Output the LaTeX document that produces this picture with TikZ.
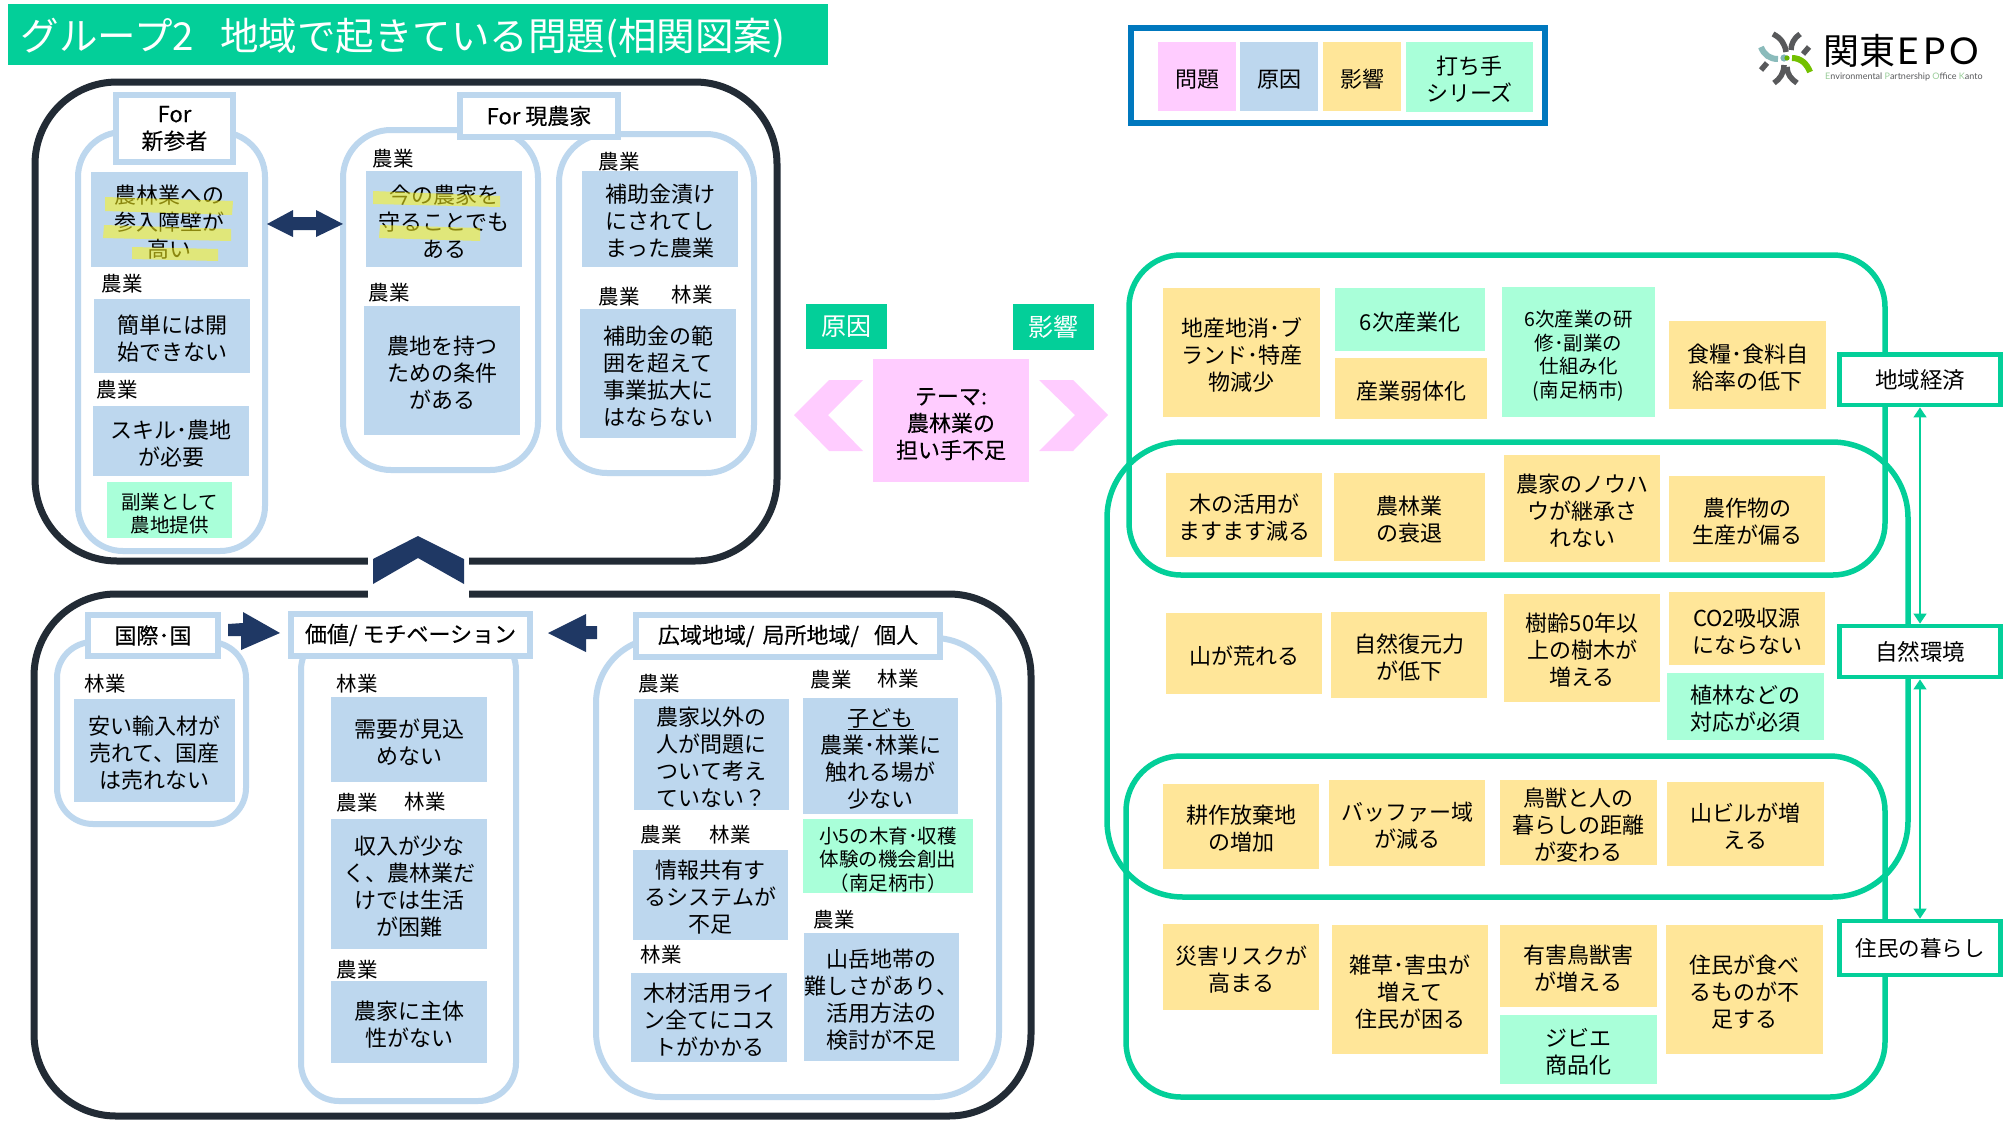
\documentclass[tikz,border=0pt]{standalone}
\usepackage{fontspec}
\setmainfont{Noto Sans CJK JP}
\newfontfamily\headfont[FakeBold=0.25]{Noto Sans CJK JP}
\newfontfamily\logolatin{Lato}
\definecolor{dk}{HTML}{222B35}
\definecolor{nv}{HTML}{1F3864}
\definecolor{lb}{HTML}{BDD7EE}
\definecolor{yl}{HTML}{FFE699}
\definecolor{gr}{HTML}{A9FFD9}
\definecolor{pk}{HTML}{FFCCFF}
\definecolor{tg}{HTML}{03CF99}
\definecolor{lg}{HTML}{0078BE}
\definecolor{hl}{HTML}{FDF51B}
\definecolor{gy}{HTML}{58595B}
\tikzset{
  x=1pt,y=-1pt,
  txt/.style={text=black,font=\fontsize{22}{27}\selectfont},
  blue/.style={txt,fill=lb},
  yell/.style={txt,fill=yl},
  mint/.style={txt,fill=gr},
  mintsm/.style={mint,font=\fontsize{19.5}{23.5}\selectfont},
  pinkb/.style={txt,fill=pk},
  outerb/.style={draw=dk,line width=7pt,fill=white,rounded corners=82pt},
  contb/.style={draw=lb,line width=6pt,fill=white},
  headb/.style={draw=lb,line width=6pt,fill=white,text=black,font=\headfont\fontsize{22}{27}\selectfont},
  zone/.style={draw=tg,line width=5.5pt},
  tagb/.style={draw=tg,line width=4.8pt,fill=white,text=black,font=\fontsize{22.5}{27}\selectfont},
  tg2/.style={fill=tg,text=white,font=\fontsize{25}{30}\selectfont},
  tagtext/.style={text=black,font=\fontsize{20.5}{24}\selectfont,inner sep=0pt},
  hlite/.style={fill=hl,opacity=.55},
  twoway/.style={draw=tg,line width=1.3pt,{Triangle[width=13pt,length=10pt]}-{Triangle[width=13pt,length=10pt]}},
  logoarc/.style={draw=gy,line width=5.5pt},
}
\usetikzlibrary{arrows.meta}
% bx: box with its text set about 2 units below the centre (the first-line strut does that)
\newcommand\bx[7]{\pgfmathsetmacro\bw{#5-#3}\pgfmathsetmacro\bh{#6-#4}%
  \node[#2,minimum width=\bw pt,minimum height=\bh pt,inner sep=0pt,align=center] (#1) at ({(#3+#5)/2},{(#4+#6)/2}) {\rule{0pt}{23.5pt}#7};}
% hb: header / plain box, text at the centre
\newcommand\hb[7]{\pgfmathsetmacro\bw{#5-#3}\pgfmathsetmacro\bh{#6-#4}%
  \node[#2,minimum width=\bw pt,minimum height=\bh pt,inner sep=0pt,align=center] (#1) at ({(#3+#5)/2},{(#4+#6)/2}) {#7};}
\newcommand\lbl[4]{\node[tagtext] (#1) at (#2,#3) {#4};}
\begin{document}
\begin{tikzpicture}
\useasboundingbox (0,0) rectangle (2009,1130);
% title
\hb{title}{fill=tg,text=white,font=\fontsize{38.5}{42}\selectfont}{8}{4}{828}{65}{\rule{0pt}{40pt}グループ2\hspace{26pt}地域で起きている問題(相関図案)\rule{30pt}{0pt}}
% legend
\hb{legend}{draw=lg,line width=6pt}{1131}{28}{1545}{123}{}
\bx{leg1}{pinkb}{1158}{42}{1236}{111}{問題}
\bx{leg2}{blue}{1240}{42}{1318}{111}{原因}
\bx{leg3}{yell}{1323}{42}{1401}{111}{影響}
\bx{leg4}{mint}{1406}{42}{1533}{112}{打ち手\\シリーズ}
% logo
\draw[line width=6pt,draw=teal!45!white!85!gray,line cap=butt] (1761,47) .. controls (1764,55) and (1770,59) .. (1778,59);
\draw[line width=6pt,draw=green!55!black!55!yellow,line cap=butt] (1792,58) .. controls (1801,58) and (1807,64) .. (1810,72);
\fill[teal!50!white!85!gray] (1784,58) circle (3.6);
\fill[green!50!black!60!yellow] (1787,58) circle (2.6);
\draw[logoarc] (1773,34) .. controls (1781,38) and (1785,44) .. (1786,52);
\draw[logoarc] (1800,34) .. controls (1794,38) and (1791,44) .. (1791,50);
\draw[logoarc] (1809,47) -- (1803,54);
\draw[logoarc] (1761,70) -- (1767,63);
\draw[logoarc] (1774,83) .. controls (1780,79) and (1784,73) .. (1784,65);
\draw[logoarc] (1797,83) .. controls (1791,79) and (1787,74) .. (1787,67);
\node[anchor=west,inner sep=0pt,text=black,font=\fontsize{36}{38}\selectfont] (logotext) at (1823,51) {関東\hspace{2pt}{\logolatin\fontsize{37}{40}\selectfont E\kern4.5pt P\kern4.5pt O}};
\node[anchor=west,inner sep=0pt,text=gy,font=\logolatin\fontsize{9}{10}\selectfont] (logosub) at (1825,77) {\textcolor{green!50!black!40!white}{E}nvironmental \textcolor{green!50!black!40!white}{P}artnership \textcolor{green!50!black!40!white}{O}ffice \textcolor{green!50!black!40!white}{K}anto};
% upper dark frame
\hb{upframe}{outerb}{35}{82}{777}{561}{}
% lower dark frame
\hb{loframe}{outerb}{34}{594}{1031}{1116}{}
% chevron up with white gap
\fill[white] (368,555) rectangle (469,594);
\fill[white] (368,590) rectangle (469,599);
\fill[nv] (373,559) -- (418,536) -- (464,559) -- (464,584) -- (418,558) -- (373,584) -- cycle;
% containers upper
\hb{c1}{contb,rounded corners=45pt}{78}{132}{265}{551}{}
\hb{c2}{contb,rounded corners=48pt}{343}{130}{538}{470}{}
\hb{c3}{contb,rounded corners=48pt}{559}{134}{754}{473}{}
\hb{h1}{headb}{116}{95}{233}{162}{For\\新参者}
\hb{h2}{headb}{460}{95}{618}{137}{For 現農家}
% column 1
\bx{a1}{blue}{91}{172}{248}{267}{農林業への\\参入障壁が\\高い}
\lbl{la2}{122}{284}{農業}
\bx{a2}{blue}{94}{299}{250}{373}{簡単には開\\始できない}
\lbl{la3}{117}{390}{農業}
\bx{a3}{blue}{93}{406}{249}{476}{スキル･農地\\が必要}
\bx{a4}{mintsm}{107}{482}{232}{538}{副業として\\農地提供}
% column 2
\lbl{lb1}{393}{159}{農業}
\bx{b1}{blue}{366}{171}{522}{267}{今の農家を\\守ることでも\\ある}
\lbl{lb2}{389}{293}{農業}
\bx{b2}{blue}{364}{306}{520}{435}{農地を持つ\\ための条件\\がある}
% column 3
\lbl{lc1}{619}{162}{農業}
\bx{c1a}{blue}{582}{171}{738}{267}{補助金漬け\\にされてし\\まった農業}
\lbl{lc2}{619}{297}{農業}
\lbl{lc3}{692}{295}{林業}
\bx{c2a}{blue}{580}{309}{736}{438}{補助金の範\\囲を超えて\\事業拡大に\\はならない}
% highlights
\fill[hlite] (105,197) -- (233,201) -- (232,215) -- (105,211) -- cycle;
\fill[hlite] (104,225) -- (231,229) -- (231,241) -- (103,238) -- cycle;
\fill[hlite] (132,247) -- (218,249) -- (218,261) -- (132,259) -- cycle;
\fill[hlite] (373,191) -- (500,196) -- (500,207) -- (373,204) -- cycle;
\fill[hlite] (380,225) -- (480,228) -- (480,241) -- (379,238) -- cycle;
% double arrow
\fill[nv] (267,224) -- (293,210) -- (293,217) -- (316,217) -- (316,210) -- (343,224) -- (316,237) -- (316,230) -- (293,230) -- (293,237) -- cycle;
% lower containers
\hb{d1}{contb,rounded corners=36pt}{57}{642}{246}{824}{}
\hb{d2}{contb,rounded corners=38pt}{301}{632}{516}{1101}{}
\hb{d3}{contb,rounded corners=65pt}{596}{638}{999}{1097}{}
\hb{h3}{headb}{88}{615}{218}{656}{国際･国}
\hb{h4}{headb}{291}{614}{530}{656}{価値/ モチベーション}
\hb{h5}{headb}{636}{615}{940}{657}{広域地域/\hspace{8pt}局所地域/\hspace{15pt}個人}
% block arrows
\fill[nv] (228,624) -- (243,623) -- (243,612) -- (280,633) -- (241,650) -- (241,636) -- (228,636) -- cycle;
\fill[nv] (548,633) -- (586,614) -- (586,626) -- (597,626) -- (597,639) -- (586,639) -- (586,652) -- cycle;
% d1
\lbl{ld1}{105}{684}{林業}
\bx{d1a}{blue}{74}{699}{235}{802}{安い輸入材が\\売れて、国産\\は売れない}
% d2
\lbl{ld2}{357}{684}{林業}
\bx{d2a}{blue}{331}{697}{487}{782}{需要が見込\\めない}
\lbl{ld3}{357}{803}{農業}
\lbl{ld4}{425}{802}{林業}
\bx{d2b}{blue}{331}{819}{487}{949}{収入が少な\\く、農林業だ\\けでは生活\\が困難}
\lbl{ld5}{357}{970}{農業}
\bx{d2c}{blue}{331}{981}{487}{1063}{農家に主体\\性がない}
% d3 left
\lbl{le1}{659}{684}{農業}
\bx{e1}{blue}{634}{699}{789}{810}{農家以外の\\人が問題に\\ついて考え\\ていない？}
\lbl{le2}{661}{835}{農業}
\lbl{le3}{730}{835}{林業}
\bx{e2}{blue}{633}{850}{788}{940}{情報共有す\\るシステムが\\不足}
\lbl{le4}{661}{955}{林業}
\bx{e3}{blue}{631}{973}{787}{1062}{木材活用ライ\\ン全てにコス\\トがかかる}
% d3 right
\lbl{lf1}{831}{680}{農業}
\lbl{lf2}{898}{679}{林業}
\bx{f1}{blue}{803}{698}{958}{814}{\underline{子ども}\\農業･林業に\\触れる場が\\少ない}
\bx{f2}{mintsm}{803}{819}{973}{893}{小5の木育･収穫\\体験の機会創出\\（南足柄市）}
\lbl{lf3}{834}{920}{農業}
\bx{f3}{blue}{804}{933}{959}{1061}{山岳地帯の\\難しさがあり、\\活用方法の\\検討が不足}
% centre
\hb{cause}{tg2}{806}{304}{887}{349}{原因}
\hb{effect}{tg2}{1013}{304}{1094}{350}{影響}
\bx{theme}{pinkb,font=\headfont\fontsize{22}{27}\selectfont}{873}{359}{1029}{482}{テーマ:\\農林業の\\担い手不足}
\fill[pk] (794,415) -- (829,380) -- (863,380) -- (828,415) -- (863,451) -- (829,451) -- cycle;
\fill[pk] (1039,380) -- (1073,380) -- (1108,415) -- (1073,451) -- (1039,451) -- (1075,415) -- cycle;
% zones
\hb{z1}{zone,rounded corners=52pt}{1129}{255}{1885}{575}{}
\hb{z2}{zone,rounded corners=76pt}{1107}{442}{1908}{897}{}
\hb{z3}{zone,rounded corners=55pt}{1126}{756}{1885}{1097}{}
% tags
\hb{econ}{tagb}{1839.5}{354.5}{2000.5}{405}{地域経済}
\hb{nature}{tagb}{1839.5}{626}{2000.5}{677}{自然環境}
\hb{life}{tagb,font=\fontsize{21.5}{27}\selectfont}{1839.5}{921}{2000.5}{975}{住民の暮らし}
\draw[twoway] (econ) -- (nature);
\draw[twoway] (nature) -- (life);
% row 1
\bx{r1}{yell}{1163}{288}{1320}{417}{地産地消･ブ\\ランド･特産\\物減少}
\bx{r2}{mint}{1335}{288}{1485}{351}{6次産業化}
\bx{r3}{yell}{1335}{358}{1487}{419}{産業弱体化}
\bx{r4}{mintsm}{1502}{287}{1655}{417}{6次産業の研\\修･副業の\\仕組み化\\(南足柄市)}
\bx{r5}{yell}{1669}{321}{1826}{409}{食糧･食料自\\給率の低下}
% row 2
\bx{s1}{yell}{1166}{473}{1322}{557}{木の活用が\\ますます減る}
\bx{s2}{yell}{1334}{473}{1485}{561}{農林業\\の衰退}
\bx{s3}{yell}{1504}{455}{1660}{562}{農家のノウハ\\ウが継承さ\\れない}
\bx{s4}{yell}{1669}{476}{1825}{562}{農作物の\\生産が偏る}
% row 3
\bx{t1}{yell}{1166}{613}{1322}{694}{山が荒れる}
\bx{t2}{yell}{1331}{612}{1487}{698}{自然復元力\\が低下}
\bx{t3}{yell}{1504}{594}{1660}{702}{樹齢50年以\\上の樹木が\\増える}
\bx{t4}{yell}{1669}{592}{1825}{665}{CO2吸収源\\にならない}
\bx{t5}{mint}{1667}{673}{1824}{740}{植林などの\\対応が必須}
% row 4
\bx{u1}{yell}{1163}{784}{1319}{869}{耕作放棄地\\の増加}
\bx{u2}{yell}{1329}{780}{1485}{866}{バッファー域\\が減る}
\bx{u3}{yell}{1500}{780}{1657}{865}{鳥獣と人の\\暮らしの距離\\が変わる}
\bx{u4}{yell}{1667}{782}{1824}{866}{山ビルが増\\える}
% row 5
\bx{v1}{yell}{1163}{924}{1319}{1010}{災害リスクが\\高まる}
\bx{v2}{yell}{1332}{925}{1488}{1054}{雑草･害虫が\\増えて\\住民が困る}
\bx{v3}{yell}{1500}{925}{1657}{1007}{有害鳥獣害\\が増える}
\bx{v4}{mint}{1500}{1015}{1657}{1084}{ジビエ\\商品化}
\bx{v5}{yell}{1666}{925}{1823}{1054}{住民が食べ\\るものが不\\足する}
\end{tikzpicture}
\end{document}
